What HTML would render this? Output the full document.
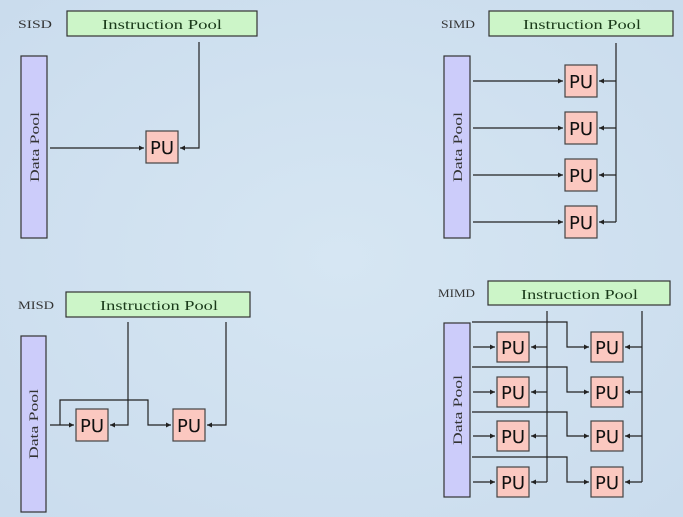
<!DOCTYPE html>
<html><head><meta charset="utf-8"><style>
html,body{margin:0;padding:0;background:#d3e3f1;}
svg{display:block}
</style></head><body>
<svg width="683" height="517" xmlns="http://www.w3.org/2000/svg">
<defs>
<marker id="a" markerWidth="6" markerHeight="6" refX="5" refY="3" orient="auto" markerUnits="userSpaceOnUse"><path d="M0,0.5 L5,3 L0,5.5z" fill="#222"/></marker>
<radialGradient id="bg" cx="50%" cy="50%" r="70%"><stop offset="0" stop-color="#d6e6f3"/><stop offset="1" stop-color="#cadced"/></radialGradient>
</defs>
<rect width="683" height="517" fill="url(#bg)"/>
<rect x="21" y="56" width="26" height="182" fill="#ccccfa" stroke="#333" stroke-width="1.2"/>
<rect x="444" y="56" width="26" height="182" fill="#ccccfa" stroke="#333" stroke-width="1.2"/>
<rect x="21" y="336" width="25" height="176" fill="#ccccfa" stroke="#333" stroke-width="1.2"/>
<rect x="444" y="323" width="26" height="174" fill="#ccccfa" stroke="#333" stroke-width="1.2"/>
<g font-family="Liberation Serif, serif" fill="#333" font-size="12">
<text x="18" y="28" textLength="34" lengthAdjust="spacingAndGlyphs">SISD</text>
<text x="441" y="28" textLength="34" lengthAdjust="spacingAndGlyphs">SIMD</text>
<text x="18" y="309" textLength="36" lengthAdjust="spacingAndGlyphs">MISD</text>
<text x="438" y="297" textLength="37" lengthAdjust="spacingAndGlyphs">MIMD</text>
</g>
<g stroke="#333" stroke-width="1.2" fill="#ccf5c8">
<rect x="67" y="11" width="190" height="25"/>
<rect x="489" y="11" width="184" height="25"/>
<rect x="66" y="292" width="184" height="25"/>
<rect x="488" y="281" width="182" height="24"/>
</g>
<g font-family="Liberation Serif, serif" font-size="14" fill="#1a3a1a">
<text x="102" y="29" textLength="120" lengthAdjust="spacingAndGlyphs">Instruction Pool</text>
<text x="523" y="29" textLength="118" lengthAdjust="spacingAndGlyphs">Instruction Pool</text>
<text x="100" y="310" textLength="118" lengthAdjust="spacingAndGlyphs">Instruction Pool</text>
<text x="521" y="299" textLength="117" lengthAdjust="spacingAndGlyphs">Instruction Pool</text>
</g>
<g font-family="Liberation Serif, serif" font-size="13" fill="#333">
<text transform="translate(39,182) rotate(-90)" textLength="70" lengthAdjust="spacingAndGlyphs">Data Pool</text>
<text transform="translate(462,182) rotate(-90)" textLength="70" lengthAdjust="spacingAndGlyphs">Data Pool</text>
<text transform="translate(38,459) rotate(-90)" textLength="70" lengthAdjust="spacingAndGlyphs">Data Pool</text>
<text transform="translate(462,445) rotate(-90)" textLength="70" lengthAdjust="spacingAndGlyphs">Data Pool</text>
</g>
<g stroke="#222" stroke-width="1.2" fill="none">
<path d="M199,42 V148 H180" marker-end="url(#a)"/>
<path d="M50,148 H144" marker-end="url(#a)"/>
<path d="M616,43 V222"/>
<path d="M616,81 H599" marker-end="url(#a)"/>
<path d="M616,128 H599" marker-end="url(#a)"/>
<path d="M616,175 H599" marker-end="url(#a)"/>
<path d="M616,222 H599" marker-end="url(#a)"/>
<path d="M473,81 H563" marker-end="url(#a)"/>
<path d="M473,128 H563" marker-end="url(#a)"/>
<path d="M473,175 H563" marker-end="url(#a)"/>
<path d="M473,222 H563" marker-end="url(#a)"/>
<path d="M128,322 V425 H110" marker-end="url(#a)"/>
<path d="M226,322 V425 H207" marker-end="url(#a)"/>
<path d="M50,425 H74" marker-end="url(#a)"/>
<path d="M60,425 V400 H148 V425 H171" marker-end="url(#a)"/>
<path d="M547,311 V482"/>
<path d="M642,311 V482"/>
<path d="M547,347 H531" marker-end="url(#a)"/>
<path d="M547,392 H531" marker-end="url(#a)"/>
<path d="M547,436 H531" marker-end="url(#a)"/>
<path d="M547,482 H531" marker-end="url(#a)"/>
<path d="M642,347 H625" marker-end="url(#a)"/>
<path d="M642,392 H625" marker-end="url(#a)"/>
<path d="M642,436 H625" marker-end="url(#a)"/>
<path d="M642,482 H625" marker-end="url(#a)"/>
<path d="M473,347 H495" marker-end="url(#a)"/>
<path d="M473,392 H495" marker-end="url(#a)"/>
<path d="M473,436 H495" marker-end="url(#a)"/>
<path d="M473,482 H495" marker-end="url(#a)"/>
<path d="M472,322 H567 V347 H589" marker-end="url(#a)"/>
<path d="M472,367 H567 V392 H589" marker-end="url(#a)"/>
<path d="M472,412 H567 V436 H589" marker-end="url(#a)"/>
<path d="M472,457 H567 V482 H589" marker-end="url(#a)"/>
</g>
<g stroke="#444" stroke-width="1.2" fill="#fbc8c0">
<rect x="146" y="131" width="32" height="32"/>
<rect x="565" y="65" width="32" height="32"/>
<rect x="565" y="112" width="32" height="32"/>
<rect x="565" y="159" width="32" height="32"/>
<rect x="565" y="206" width="32" height="32"/>
<rect x="76" y="409" width="32" height="32"/>
<rect x="173" y="409" width="32" height="32"/>
<rect x="497" y="332" width="32" height="30"/>
<rect x="497" y="377" width="32" height="30"/>
<rect x="497" y="421" width="32" height="30"/>
<rect x="497" y="467" width="32" height="30"/>
<rect x="591" y="332" width="32" height="30"/>
<rect x="591" y="377" width="32" height="30"/>
<rect x="591" y="421" width="32" height="30"/>
<rect x="591" y="467" width="32" height="30"/>
</g>
<g font-family="DejaVu Sans, sans-serif" font-size="18" fill="#111" text-anchor="middle">
<text x="162" y="154">PU</text>
<text x="581" y="88">PU</text>
<text x="581" y="135">PU</text>
<text x="581" y="182">PU</text>
<text x="581" y="229">PU</text>
<text x="92" y="432">PU</text>
<text x="189" y="432">PU</text>
<text x="513" y="354">PU</text>
<text x="513" y="399">PU</text>
<text x="513" y="443">PU</text>
<text x="513" y="489">PU</text>
<text x="607" y="354">PU</text>
<text x="607" y="399">PU</text>
<text x="607" y="443">PU</text>
<text x="607" y="489">PU</text>
</g>
</svg>
</body></html>
